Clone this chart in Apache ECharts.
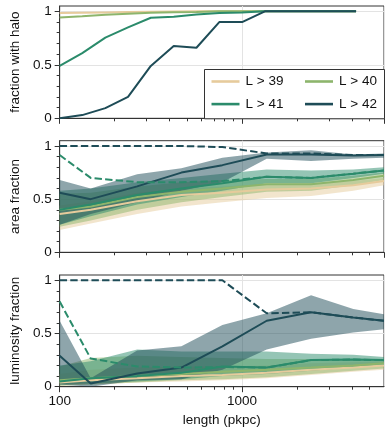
<!DOCTYPE html>
<html>
<head>
<meta charset="utf-8">
<script src="https://cdn.jsdelivr.net/npm/echarts@6/dist/echarts.min.js"></script>
<style>html,body{margin:0;padding:0;background:#fff}#c{width:391px;height:436px}</style>
</head>
<body>
<div id="c"></div>
<script>
// ---- data ----
const seriesNames = ['L > 39', 'L > 40', 'L > 41', 'L > 42'];
const xHalo = [100, 133, 178, 237, 316, 422, 562, 750, 1000, 1334, 1778, 2371, 3162, 4217];
const halo39 = [0.984, 0.987, 0.99, 0.993, 0.996, 0.998, 1, 1, 1, 1, 1, 1, 1, 1];
const halo40 = [0.943, 0.955, 0.968, 0.978, 0.988, 0.992, 0.995, 1, 1, 1, 1, 1, 1, 1];
const halo41 = [0.49, 0.61, 0.755, 0.85, 0.94, 0.95, 0.97, 0.985, 0.99, 1, 1, 1, 1, 1];
const halo42 = [0.0, 0.03, 0.095, 0.2, 0.49, 0.675, 0.66, 0.9, 0.9, 1, 1, 1, 1, 1];

const xBin = [100, 148, 266, 465, 780, 1365, 2390, 4070, 6000];
const area39 = [0.36, 0.40, 0.48, 0.54, 0.56, 0.59, 0.60, 0.63, 0.67];
const area39lo = [0.21, 0.27, 0.36, 0.43, 0.47, 0.51, 0.53, 0.58, 0.63];
const area39hi = [0.44, 0.48, 0.56, 0.60, 0.62, 0.64, 0.65, 0.67, 0.70];
const area40 = [0.40, 0.43, 0.52, 0.57, 0.60, 0.64, 0.64, 0.68, 0.72];
const area40lo = [0.24, 0.30, 0.40, 0.47, 0.52, 0.57, 0.58, 0.63, 0.68];
const area40hi = [0.55, 0.56, 0.62, 0.66, 0.68, 0.69, 0.69, 0.72, 0.75];
const area41 = [0.40, 0.45, 0.54, 0.60, 0.65, 0.71, 0.70, 0.74, 0.77];
const area41lo = [0.26, 0.34, 0.45, 0.52, 0.58, 0.65, 0.65, 0.70, 0.74];
const area41hi = [0.58, 0.60, 0.66, 0.70, 0.74, 0.78, 0.77, 0.78, 0.80];
const area41dash = [0.915, 0.70, 0.66, 0.66, 0.67, 0.71, 0.70, 0.74, 0.77];
const area42 = [0.56, 0.50, 0.62, 0.75, 0.82, 0.92, 0.92, 0.91, 0.915];
const area42lo = [0.26, 0.36, 0.47, 0.58, 0.66, 0.88, 0.86, 0.88, 0.89];
const area42hi = [0.68, 0.60, 0.735, 0.79, 0.89, 0.94, 0.96, 0.92, 0.93];
const area42dash = [1, 1, 1, 1, 0.99, 0.93, 0.93, 0.915, 0.915];

const lum39 = [0.04, 0.06, 0.08, 0.10, 0.11, 0.13, 0.16, 0.18, 0.20];
const lum39lo = [0.01, 0.02, 0.04, 0.05, 0.06, 0.08, 0.11, 0.14, 0.16];
const lum39hi = [0.12, 0.16, 0.18, 0.19, 0.19, 0.20, 0.22, 0.23, 0.24];
const lum40 = [0.06, 0.08, 0.10, 0.12, 0.14, 0.16, 0.18, 0.20, 0.22];
const lum40lo = [0.01, 0.02, 0.04, 0.06, 0.07, 0.09, 0.12, 0.15, 0.17];
const lum40hi = [0.19, 0.27, 0.29, 0.28, 0.27, 0.26, 0.26, 0.25, 0.25];
const lum41 = [0.05, 0.08, 0.10, 0.13, 0.19, 0.18, 0.25, 0.255, 0.25];
const lum41lo = [0.02, 0.03, 0.05, 0.07, 0.10, 0.12, 0.15, 0.18, 0.20];
const lum41hi = [0.20, 0.24, 0.35, 0.33, 0.33, 0.33, 0.31, 0.30, 0.28];
const lum41dash = [0.80, 0.265, 0.19, 0.18, 0.185, 0.18, 0.25, 0.255, 0.25];
const lum42 = [0.29, 0.03, 0.125, 0.18, 0.38, 0.62, 0.70, 0.65, 0.62];
const lum42lo = [0.02, 0.0, 0.06, 0.07, 0.16, 0.35, 0.45, 0.51, 0.54];
const lum42hi = [0.62, 0.08, 0.34, 0.38, 0.58, 0.69, 0.86, 0.73, 0.68];
const lum42dash = [1, 1, 1, 1, 1, 0.69, 0.70, 0.65, 0.62];

const yTicks = [0, 0.5, 1];
const yMinorTicks = [0.1, 0.2, 0.3, 0.4, 0.6, 0.7, 0.8, 0.9];
const xTickLabels = [100, 1000];
const xMinorTicks = [200, 300, 400, 500, 600, 700, 800, 900, 2000, 3000, 4000, 5000];
const yNames = ['fraction with halo', 'area fraction', 'luminosity fraction'];
const xName = 'length (pkpc)';

// ---- style ----
const colors = ['#e6cb9c', '#8db56c', '#2b8b6b', '#1e4c57'];
const bandAlpha = 0.5;
const FONT = 'Liberation Sans, Arial, sans-serif';
const AX = '#333';
function rgba(hex, a) {
  const n = parseInt(hex.slice(1), 16);
  return 'rgba(' + (n >> 16) + ',' + ((n >> 8) & 255) + ',' + (n & 255) + ',' + a + ')';
}
const grids = [
  { left: 54.5, width: 329.5, top: 6, height: 112.3 },
  { left: 54.5, width: 329.5, top: 140.7, height: 111.6 },
  { left: 54.5, width: 329.5, top: 275, height: 111.7 }
].map(g => Object.assign(g, { show: true, borderColor: AX, borderWidth: 1, backgroundColor: 'transparent' }));

const xAxes = [], yAxes = [];
grids.forEach((g, i) => {
  const last = i === 2;
  xAxes.push({
    type: 'log', logBase: 10, gridIndex: i, min: 100, max: 6000, position: 'bottom',
    axisLine: { show: true, lineStyle: { color: AX, width: 1 } },
    axisTick: { show: true, length: 5.5, lineStyle: { color: AX } },
    axisLabel: {
      show: last, fontFamily: FONT, fontSize: 13.5, color: '#111', margin: 8,
      showMaxLabel: false,
      formatter: v => { const r = Math.round(v); return xTickLabels.indexOf(r) >= 0 ? String(r) : ''; }
    },
    splitLine: { show: true, lineStyle: { color: '#e3e3e3', width: 1 } },
    name: last ? xName : '', nameLocation: 'middle', nameGap: 27,
    nameTextStyle: { fontFamily: FONT, fontSize: 13.5, color: '#111' }
  });
  xAxes.push({
    type: 'log', logBase: 10, gridIndex: i, min: 100, max: 6000, position: 'bottom', offset: 0,
    axisLine: { show: false },
    axisTick: { show: true, length: 3, customValues: xMinorTicks, lineStyle: { color: AX } },
    axisLabel: { show: false }, splitLine: { show: false }
  });
  yAxes.push({
    type: 'value', gridIndex: i, min: 0, max: 1.05, position: 'left',
    axisLine: { show: true, lineStyle: { color: AX, width: 1 } },
    axisTick: { show: true, length: 5, customValues: yTicks, lineStyle: { color: AX } },
    axisLabel: {
      customValues: yTicks, fontFamily: FONT, fontSize: 13.5, color: '#111', margin: 8,
      formatter: v => String(v)
    },
    splitLine: { show: true, lineStyle: { color: '#e3e3e3', width: 1 } },
    name: yNames[i], nameLocation: 'middle', nameGap: 33,
    nameTextStyle: { fontFamily: FONT, fontSize: 13.5, color: '#111' }
  });
  yAxes.push({
    type: 'value', gridIndex: i, min: 0, max: 1.05, position: 'left', offset: 0,
    axisLine: { show: false },
    axisTick: { show: true, length: 3, customValues: yMinorTicks, lineStyle: { color: AX } },
    axisLabel: { show: false }, splitLine: { show: false }
  });
});

function lineS(panel, name, xs, ys, color, dashed) {
  return {
    type: 'line', name: name, xAxisIndex: panel * 2, yAxisIndex: panel * 2,
    data: xs.map((x, i) => [x, ys[i]]), symbol: 'none', silent: true, z: 3,
    lineStyle: { color: color, width: 2, type: dashed ? [7.4, 3.2] : 'solid', cap: 'butt' },
    itemStyle: { color: color }, animation: false
  };
}
function bandS(panel, name, xs, lo, hi, color) {
  return {
    type: 'custom', name: name, xAxisIndex: panel * 2, yAxisIndex: panel * 2,
    data: xs.map((x, i) => [x, lo[i], hi[i]]),
    encode: { x: 0, y: [1, 2] }, silent: true, z: 1, clip: true, animation: false,
    renderItem: (params, api) => {
      if (params.dataIndex !== 0) return null;
      const up = xs.map((x, i) => api.coord([x, hi[i]]));
      const dn = xs.map((x, i) => api.coord([x, lo[i]])).reverse();
      return { type: 'polygon', shape: { points: up.concat(dn) }, style: { fill: rgba(color, bandAlpha) } };
    }
  };
}

const series = [
  lineS(0, seriesNames[0], xHalo, halo39, colors[0]),
  lineS(0, seriesNames[1], xHalo, halo40, colors[1]),
  lineS(0, seriesNames[2], xHalo, halo41, colors[2]),
  lineS(0, seriesNames[3], xHalo, halo42, colors[3]),

  bandS(1, 'a39b', xBin, area39lo, area39hi, colors[0]),
  bandS(1, 'a40b', xBin, area40lo, area40hi, colors[1]),
  bandS(1, 'a41b', xBin, area41lo, area41hi, colors[2]),
  bandS(1, 'a42b', xBin, area42lo, area42hi, colors[3]),
  lineS(1, 'a39', xBin, area39, colors[0]),
  lineS(1, 'a40', xBin, area40, colors[1]),
  lineS(1, 'a41', xBin, area41, colors[2]),
  lineS(1, 'a42', xBin, area42, colors[3]),
  lineS(1, 'a41d', xBin, area41dash, colors[2], true),
  lineS(1, 'a42d', xBin, area42dash, colors[3], true),

  bandS(2, 'l39b', xBin, lum39lo, lum39hi, colors[0]),
  bandS(2, 'l40b', xBin, lum40lo, lum40hi, colors[1]),
  bandS(2, 'l41b', xBin, lum41lo, lum41hi, colors[2]),
  bandS(2, 'l42b', xBin, lum42lo, lum42hi, colors[3]),
  lineS(2, 'l39', xBin, lum39, colors[0]),
  lineS(2, 'l40', xBin, lum40, colors[1]),
  lineS(2, 'l41', xBin, lum41, colors[2]),
  lineS(2, 'l42', xBin, lum42, colors[3]),
  lineS(2, 'l41d', xBin, lum41dash, colors[2], true),
  lineS(2, 'l42d', xBin, lum42dash, colors[3], true)
];

const legendBase = {
  orient: 'vertical', icon: 'rect', itemWidth: 28, itemHeight: 2.6, itemGap: 8.6,
  padding: 0, z: 10, selectedMode: false,
  textStyle: { fontFamily: FONT, fontSize: 13.5, color: '#111', padding: [0, 0, 0, 1] }
};
const option = {
  animation: false,
  backgroundColor: '#fff',
  grid: grids,
  xAxis: xAxes,
  yAxis: yAxes,
  legend: [
    Object.assign({}, legendBase, { left: 211.5, top: 74.5, data: [seriesNames[0], seriesNames[2]] }),
    Object.assign({}, legendBase, { left: 305, top: 74.5, data: [seriesNames[1], seriesNames[3]] })
  ],
  graphic: [{
    type: 'rect', left: 204, top: 69, z: 5, silent: true,
    shape: { width: 180, height: 49.3 },
    style: { fill: '#fff', stroke: AX, lineWidth: 1 }
  }],
  series: series
};
const chart = echarts.init(document.getElementById('c'), null, { renderer: 'canvas' });
chart.setOption(option);
</script>
</body>
</html>
